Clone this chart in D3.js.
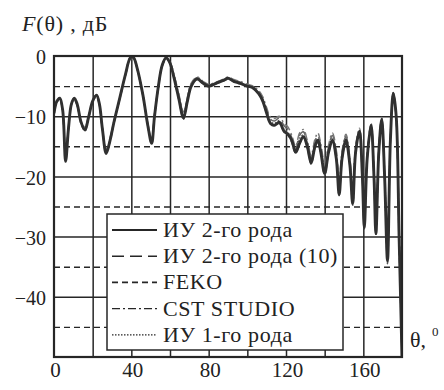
<!DOCTYPE html>
<html>
<head>
<meta charset="utf-8">
<script src="https://cdn.jsdelivr.net/npm/d3@7"></script>
<style>
  html, body { margin: 0; padding: 0; background: #fff; }
  svg { display: block; font-family: "Liberation Serif", "Times New Roman", serif; }
</style>
</head>
<body>
<svg id="chart" width="444" height="390"></svg>
<script>
// angle grid, degrees
const theta = [0,1.5,3,4.5,6,7.5,9,10.5,12,14,16,18,20,22,23.5,25,27,29,31,34,37,39.5,41,43,46,48.5,50.5,52,54,56,58,60,62,64.5,67,69,71,74,77,80,84,88,90,93,96,100,103,106,108,110,112,114,116.5,119,121,123,125,127,129,131,133,135,136.5,138,140,142,144,146,147.5,149,151,153,154.5,156,158,159.5,160.5,162,164,165.5,166.5,168,169.5,171,172.5,174,175.5,177,178.5,180];

// F(theta), dB
const iu2 = [-9.5,-7.5,-7,-9,-17.5,-12,-8,-7,-8,-11,
  -12.3,-10,-7.5,-6.5,-8,-12,-16.2,-14,-11,-7,
  -3,-0.3,-0.2,-2,-6.5,-11.5,-14.5,-10,-5,-1.5,
  -0.3,-1.2,-3.5,-7,-10.3,-7.5,-5,-3.8,-4.5,-5,
  -4.5,-4,-3.7,-4.2,-4.5,-5,-5.3,-6.3,-7.5,-9.5,
  -11.2,-11.5,-11,-12.5,-13,-14,-16,-14.5,-13.4,-15,
  -17.8,-15,-14,-16,-19.5,-16,-14,-17,-23,-17,
  -14,-18,-24.5,-16,-12.5,-20,-28.5,-17,-11.5,-20,
  -29.5,-16,-10.5,-20,-34,-14,-6.2,-10,-30,-50];

const iu2_10 = [-9.2,-7.6,-7.2,-9.3,-16.8,-11.8,-8,-7.1,-8.2,-11,
  -12,-10,-7.6,-6.6,-8.2,-12,-15.8,-13.8,-11,-7.1,
  -3.1,-0.4,-0.3,-2.1,-6.6,-11.3,-14,-9.8,-5,-1.6,
  -0.4,-1.1,-3.2,-6.4,-9.5,-7,-4.6,-3.6,-4.3,-4.8,
  -4.4,-3.9,-3.6,-4,-4.3,-4.8,-5.1,-6,-7.1,-9,
  -10.5,-10.8,-10.3,-11.6,-12.2,-13.6,-15.5,-13.2,-12.6,-14.5,
  -17,-14.2,-13.2,-15,-18.6,-15.2,-13.2,-16,-21.8,-16.2,
  -13.4,-17.2,-23.5,-15.4,-12.3,-19.4,-27.5,-16.5,-11.4,-19.5,
  -28.8,-15.6,-10.4,-19.6,-33,-13.6,-6.2,-10.2,-29,-50];

const feko = [-9.6,-7.4,-7,-9.2,-17,-12.2,-8.1,-7,-8,-11.2,
  -12.5,-10.2,-7.5,-6.4,-8,-12.2,-16,-14.2,-11.2,-7,
  -2.9,-0.2,-0.2,-2,-6.4,-11.6,-14.6,-10.2,-5.1,-1.4,
  -0.3,-1.2,-3.6,-7.2,-10.5,-7.6,-5.1,-3.9,-4.6,-5.1,
  -4.6,-4.1,-3.8,-4.3,-4.6,-5.1,-5.4,-6.4,-7.6,-9.6,
  -11.3,-11.6,-11.2,-12.6,-13.1,-14.4,-16.2,-14.6,-13.5,-15.2,
  -18,-15.2,-14.1,-16.1,-19.8,-16.2,-14.1,-17.2,-23.2,-17.2,
  -14.1,-18.2,-24.8,-16.2,-12.6,-20.2,-28.8,-17.2,-11.6,-20.2,
  -29.8,-16.2,-10.6,-20.4,-34.5,-14.2,-6.3,-10.4,-31,-50];

const cst = [-9.3,-7.7,-7.3,-9.4,-16.5,-11.5,-8.2,-7.2,-8.3,-10.8,
  -11.8,-9.8,-7.6,-6.7,-8.3,-11.8,-15.5,-13.6,-10.8,-7.2,
  -3.2,-0.5,-0.4,-2.2,-6.7,-11.2,-13.8,-9.6,-5.2,-1.7,
  -0.5,-1,-3,-6.2,-9.3,-6.8,-4.5,-3.5,-4.2,-4.7,
  -4.3,-3.8,-3.5,-3.9,-4.2,-4.7,-5,-5.8,-6.8,-8.6,
  -10.2,-10.4,-10,-11.2,-11.8,-13.2,-15,-12.8,-12.2,-14,
  -16.5,-13.8,-12.8,-14.6,-18,-14.8,-12.8,-15.6,-21,-15.8,
  -13,-16.8,-22.8,-15,-12,-19,-27,-16.2,-11.2,-19.2,
  -28,-15.4,-10.2,-19.4,-32.5,-13.4,-6.1,-10.4,-28.5,-50];

const iu1 = [-9.5,-7.5,-7.1,-9.1,-17.2,-12.1,-8,-7,-8.1,-11.1,
  -12.2,-10.1,-7.5,-6.5,-8.1,-12.1,-16,-14,-11.1,-7,
  -3,-0.3,-0.2,-2,-6.5,-11.4,-14.3,-10,-5,-1.5,
  -0.3,-1.2,-3.4,-6.8,-10,-7.3,-4.9,-3.7,-4.5,-5,
  -4.5,-4,-3.7,-4.2,-4.5,-5,-5.3,-6.2,-7.3,-9.2,
  -10.9,-11.2,-10.7,-12.2,-12.7,-14.1,-16,-13.7,-13.1,-15,
  -17.6,-14.7,-13.7,-15.6,-19.2,-15.7,-13.7,-16.6,-22.6,-16.7,
  -13.8,-17.7,-24.2,-15.8,-12.6,-19.8,-28.2,-16.8,-11.7,-19.8,
  -29.2,-15.9,-10.5,-19.9,-33.6,-13.9,-6.2,-10.1,-29.5,-50];

const seriesNames = ["ИУ 2-го рода", "ИУ 2-го рода (10)", "FEKO", "CST STUDIO", "ИУ 1-го рода"];
const xTicks = [0, 40, 80, 120, 160];
const xGrid = [20, 40, 60, 80, 100, 120, 140, 160];
const yTicks = [0, -10, -20, -30, -40];
const yGridSolid = [-10, -20, -30, -40];
const yGridDash = [-5, -15, -25, -35, -45];

const svg = d3.select("#chart");
const plotL = 54, plotR = 402, plotT = 56, plotB = 357;

const x = d3.scaleLinear().domain([0, 180]).range([plotL, plotR]);
const y = d3.scaleLinear().domain([0, -50]).range([plotT, plotB]);

const ink = "#262626";

// grid
const grid = svg.append("g");
grid.append("g")
    .attr("transform", `translate(0,${plotB})`)
    .call(d3.axisBottom(x).tickValues(xGrid).tickSize(-(plotB - plotT)).tickFormat(""))
    .call(g => g.select(".domain").remove())
    .call(g => g.selectAll("line").attr("stroke", ink).attr("stroke-width", 1.5));
grid.append("g")
    .attr("transform", `translate(${plotL},0)`)
    .call(d3.axisLeft(y).tickValues(yGridSolid).tickSize(-(plotR - plotL)).tickFormat(""))
    .call(g => g.select(".domain").remove())
    .call(g => g.selectAll("line").attr("stroke", ink).attr("stroke-width", 1.5));
grid.append("g")
    .attr("transform", `translate(${plotL},0)`)
    .call(d3.axisLeft(y).tickValues(yGridDash).tickSize(-(plotR - plotL)).tickFormat(""))
    .call(g => g.select(".domain").remove())
    .call(g => g.selectAll("line").attr("stroke", ink).attr("stroke-width", 1.4)
        .attr("stroke-dasharray", "6,4"));

// curves
svg.append("clipPath").attr("id", "clip")
  .append("rect").attr("x", plotL).attr("y", plotT)
  .attr("width", plotR - plotL).attr("height", plotB - plotT);

const line = d3.line()
    .x((d, i) => x(theta[i]))
    .y(d => y(d))
    .curve(d3.curveCatmullRom.alpha(0.5));

const styles = [
  { data: iu2,    color: "#303030", width: 2.9, dash: null },
  { data: iu2_10, color: "#666",    width: 1.6, dash: "10,5" },
  { data: feko,   color: "#555",    width: 1.5, dash: "5,3" },
  { data: cst,    color: "#777",    width: 1.5, dash: "8,3,2,3" },
  { data: iu1,    color: "#555",    width: 1.4, dash: "1.5,2" }
];

const curves = svg.append("g").attr("clip-path", "url(#clip)");
[1, 3, 2, 4, 0].forEach(k => {
  const s = styles[k];
  curves.append("path")
    .attr("d", line(s.data))
    .attr("fill", "none")
    .attr("stroke", s.color)
    .attr("stroke-width", s.width)
    .attr("stroke-linejoin", "round")
    .attr("stroke-dasharray", s.dash);
});

// legend
const legend = svg.append("g");
legend.append("rect")
    .attr("x", 107).attr("y", 214).attr("width", 236).attr("height", 136)
    .attr("fill", "#fff").attr("stroke", ink).attr("stroke-width", 1.5);

const legendStyles = [
  { dash: null, width: 1.8 },
  { dash: "12,6", width: 1.5 },
  { dash: "6,4", width: 1.6 },
  { dash: "8,3,2,3", width: 1.3 },
  { dash: "1.5,1.5", width: 1.3 }
];
seriesNames.forEach((name, i) => {
  const cy = 230 + i * 26.2;
  legend.append("line")
    .attr("x1", 112).attr("x2", 157).attr("y1", cy).attr("y2", cy)
    .attr("stroke", ink).attr("stroke-width", legendStyles[i].width)
    .attr("stroke-dasharray", legendStyles[i].dash);
  legend.append("text")
    .attr("x", 163).attr("y", cy + 7)
    .attr("font-size", 22).attr("letter-spacing", 0.6).attr("fill", "#222")
    .text(name);
});

// frame
svg.append("rect")
    .attr("x", plotL).attr("y", plotT).attr("width", plotR - plotL).attr("height", plotB - plotT)
    .attr("fill", "none").attr("stroke", ink).attr("stroke-width", 2.2);

// tick labels
svg.append("g")
    .attr("transform", `translate(${plotL},0)`)
    .call(d3.axisLeft(y).tickValues(yTicks).tickSize(0).tickPadding(8)
        .tickFormat(d => d === 0 ? "0" : "\u2212" + Math.abs(d)))
    .call(g => g.select(".domain").remove())
    .call(g => g.selectAll("text").attr("font-size", 20).attr("fill", "#222")
        .attr("font-family", "Liberation Serif, serif").attr("dy", "0.38em"));

svg.append("g")
    .attr("transform", `translate(1,${plotB})`)
    .call(d3.axisBottom(x).tickValues(xTicks).tickSize(0).tickPadding(5))
    .call(g => g.select(".domain").remove())
    .call(g => g.selectAll("text").attr("font-size", 21).attr("fill", "#222")
        .attr("font-family", "Liberation Serif, serif"));

// axis titles
const yt = svg.append("text").attr("x", 22).attr("y", 31).attr("font-size", 22)
    .attr("letter-spacing", 0.8).attr("fill", "#222");
yt.append("tspan").attr("font-style", "italic").text("F");
yt.append("tspan").text("(θ) , дБ");

const xt = svg.append("text").attr("x", 410).attr("y", 347).attr("font-size", 22).attr("fill", "#222");
xt.append("tspan").text("θ,");
xt.append("tspan").attr("dx", 6).attr("dy", -11).attr("font-size", 13).text("0");
</script>
</body>
</html>
